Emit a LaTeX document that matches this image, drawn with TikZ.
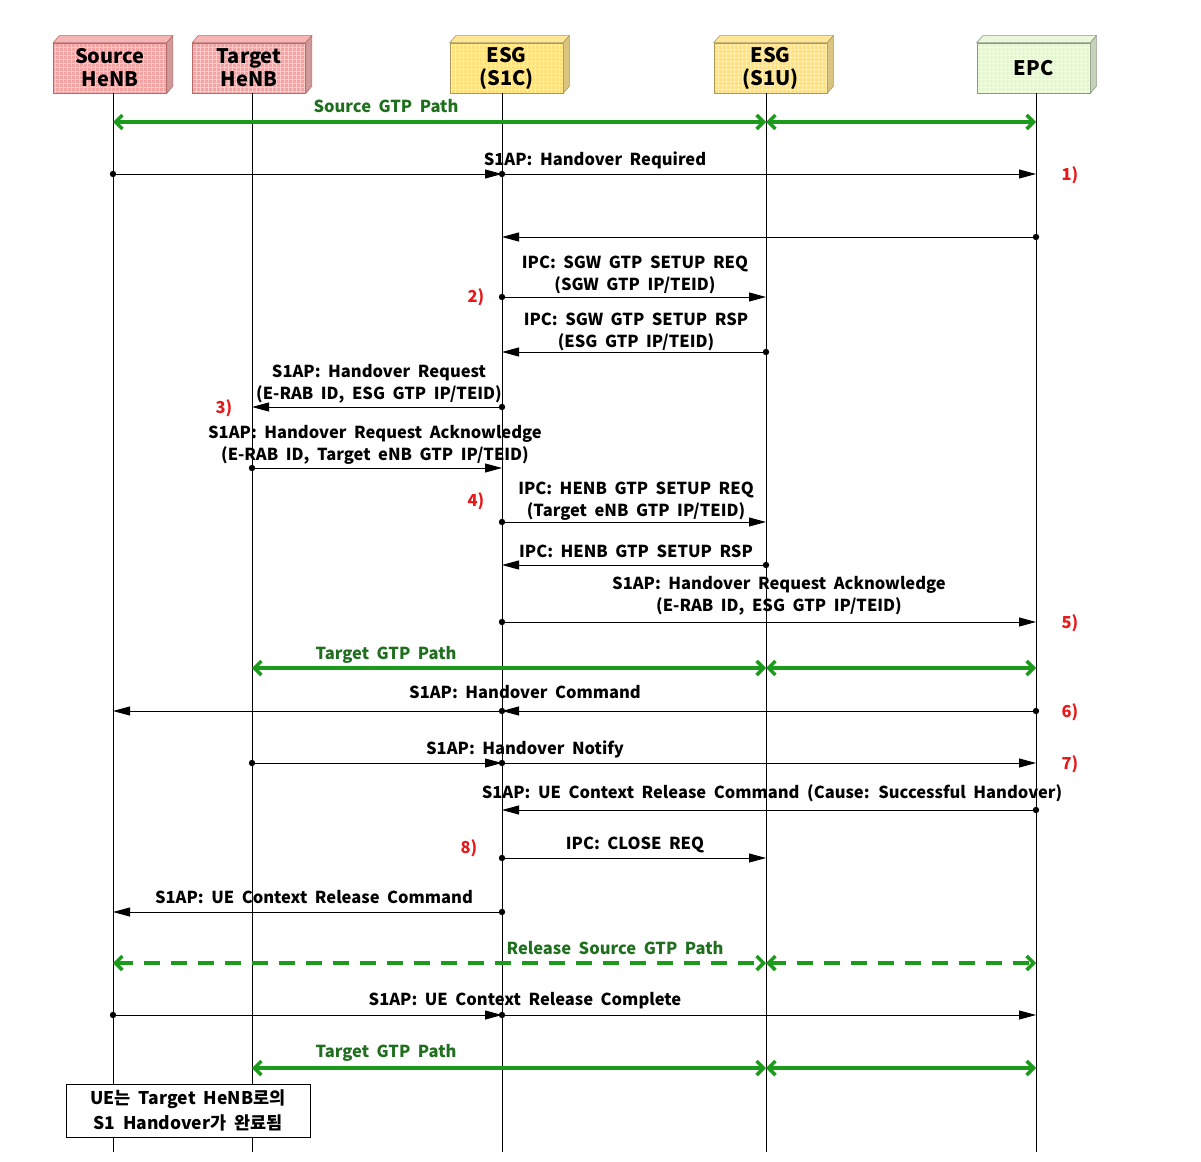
\documentclass[tikz,border=0pt]{standalone}
\usepackage{fontspec}
\setmainfont{Noto Sans CJK KR}[WordSpace=2]
\usetikzlibrary{arrows.meta}
\definecolor{pinkfill}{HTML}{F4A3A3}
\definecolor{pinkgrid}{HTML}{F9CACA}
\definecolor{pinkline}{HTML}{B86A6A}
\definecolor{yelfill}{HTML}{FFE07C}
\definecolor{yelgrid}{HTML}{FFEFB4}
\definecolor{yelline}{HTML}{A89A5A}
\definecolor{grnfill}{HTML}{E5F5D2}
\definecolor{grngrid}{HTML}{F3FBEA}
\definecolor{grnline}{HTML}{8A9A82}
\definecolor{pathgreen}{HTML}{1C9A1C}
\definecolor{labgreen}{HTML}{1F6F1F}
\definecolor{stepred}{HTML}{E61A1A}
\newcommand{\hdrfont}{\fontsize{20}{23}\selectfont\bfseries}
\newcommand{\lblfont}{\fontsize{16.5}{22}\selectfont\bfseries}
\newcommand{\notefont}{\fontsize{17.5}{25}\selectfont\bfseries}
\tikzset{
  hdr/.style n args={3}{rectangle, draw=#3, fill=#1, line width=0.6pt,
    minimum width=113pt, minimum height=50pt, inner sep=0pt, align=center,
    font=\hdrfont,
    path picture={\draw[#2, line width=0.5pt, step=4pt]
      (path picture bounding box.south west) grid (path picture bounding box.north east);}},
  lifeline/.style={draw=black, line width=0.7pt},
  msg/.style={draw=black, line width=0.9pt, -{Triangle[length=17pt,width=9pt]}},
  gtp/.style={draw=pathgreen, line width=3.5pt,
    {Straight Barb[length=7pt,width=14pt]}-{Straight Barb[length=7pt,width=14pt]}},
  gtpdash/.style={gtp, dash pattern=on 16pt off 11pt},
  lbl/.style={font=\lblfont, align=center, inner sep=0pt, text=black},
  glbl/.style={font=\lblfont, inner sep=0pt, text=labgreen},
  steplbl/.style={font=\lblfont, inner sep=0pt, text=stepred},
  notebox/.style={draw=black, fill=white, line width=0.8pt, font=\notefont,
    align=center, minimum width=244pt, minimum height=53pt, inner sep=0pt},
}
\newcommand{\threed}[3]{%
  \filldraw[fill=#2, draw=#3, line width=0.6pt] (#1.north west) -- ++(6,-7)
    -- ([shift={(6,-7)}]#1.north east) -- (#1.north east) -- cycle;
  \filldraw[fill=#2!85!black, draw=#3, line width=0.6pt] (#1.north east) -- ++(6,-7)
    -- ([shift={(6,-7)}]#1.south east) -- (#1.south east) -- cycle;}
\begin{document}
\begin{tikzpicture}[x=1pt, y=-1pt]
\useasboundingbox[fill=white] (0,0) rectangle (1201,1161);

% lifeline coordinates
\foreach \n/\x in {S/113,T/252,C/502,U/766,E/1036}{
  \foreach \y in {93,122,174,237,297,352,407,468,522,565,622,668,711,763,810,858,912,963,1015,1068}{
    \coordinate (\n\y) at (\x,\y);
  }
  \coordinate (\n-bot) at (\x,1152);
}

% headers
\node[hdr={pinkfill}{pinkgrid}{pinkline}] (hS) at (110,68) {Source\\HeNB};
\node[hdr={pinkfill}{pinkgrid}{pinkline}] (hT) at (249,68) {Target\\HeNB};
\node[hdr={yelfill}{yelgrid}{yelline}] (hC) at (506.5,68) {ESG\\(S1C)};
\node[hdr={yelfill}{yelgrid}{yelline}] (hU) at (770.5,68) {ESG\\(S1U)};
\node[hdr={grnfill}{grngrid}{grnline}] (hE) at (1033.5,68) {EPC};
\threed{hS}{pinkfill!80!white}{pinkline}
\threed{hT}{pinkfill!80!white}{pinkline}
\threed{hC}{yelfill!80!white}{yelline}
\threed{hU}{yelfill!80!white}{yelline}
\threed{hE}{grnfill!80!white}{grnline}

% lifelines
\draw[lifeline] (S93) -- (S-bot);
\draw[lifeline] (T93) -- (T-bot);
\draw[lifeline] (C93) -- (C-bot);
\draw[lifeline] (U93) -- (U-bot);
\draw[lifeline] (E93) -- (E-bot);

% Source GTP path
\node[glbl] (l1) at (386,106) {Source GTP Path};
\draw[gtp] (S122) -- (U122);
\draw[gtp] (U122) -- (E122);

% 1) Handover Required
\node[lbl] (l2) at (595,160) {S1AP: Handover Required};
\draw[msg] (S174) -- (C174);
\draw[msg] (C174) -- (E174);
\fill (S174) circle (3.2pt); \fill (C174) circle (3.2pt);
\node[steplbl] (s1) at (1070,175) {1)};

\draw[msg] (E237) -- (C237);
\fill (E237) circle (3.2pt);

% 2)
\node[lbl] (l3) at (635,275) {IPC: SGW GTP SETUP REQ\\(SGW GTP IP/TEID)};
\draw[msg] (C297) -- (U297);
\fill (C297) circle (3.2pt);
\node[steplbl] (s2) at (476,297) {2)};
\node[lbl] (l4) at (636,332) {IPC: SGW GTP SETUP RSP\\(ESG GTP IP/TEID)};
\draw[msg] (U352) -- (C352);
\fill (U352) circle (3.2pt);

% 3)
\node[lbl] (l5) at (379,384) {S1AP: Handover Request\\(E-RAB ID, ESG GTP IP/TEID)};
\draw[msg] (C407) -- (T407);
\fill (C407) circle (3.2pt);
\node[steplbl] (s3) at (224,408) {3)};
\node[lbl] (l6) at (375,445) {S1AP: Handover Request Acknowledge\\(E-RAB ID, Target eNB GTP IP/TEID)};
\draw[msg] (T468) -- (C468);
\fill (T468) circle (3.2pt);

% 4)
\node[lbl] (l7) at (636,501) {IPC: HENB GTP SETUP REQ\\(Target eNB GTP IP/TEID)};
\draw[msg] (C522) -- (U522);
\fill (C522) circle (3.2pt);
\node[steplbl] (s4) at (476,501) {4)};
\node[lbl] (l8) at (636,551) {IPC: HENB GTP SETUP RSP};
\draw[msg] (U565) -- (C565);
\fill (U565) circle (3.2pt);

% 5)
\node[lbl] (l9) at (779,596) {S1AP: Handover Request Acknowledge\\(E-RAB ID, ESG GTP IP/TEID)};
\draw[msg] (C622) -- (E622);
\fill (C622) circle (3.2pt);
\node[steplbl] (s5) at (1070,623) {5)};

% Target GTP path
\node[glbl] (l10) at (386,655) {Target GTP Path};
\draw[gtp] (T668) -- (U668);
\draw[gtp] (U668) -- (E668);

% 6)
\node[lbl] (l11) at (525,692) {S1AP: Handover Command};
\draw[msg] (E711) -- (C711);
\draw[msg] (C711) -- (S711);
\fill (E711) circle (3.2pt); \fill (C711) circle (3.2pt);
\node[steplbl] (s6) at (1070,712) {6)};

% 7)
\node[lbl] (l12) at (525,749) {S1AP: Handover Notify};
\draw[msg] (T763) -- (C763);
\draw[msg] (C763) -- (E763);
\fill (T763) circle (3.2pt); \fill (C763) circle (3.2pt);
\node[steplbl] (s7) at (1070,764) {7)};

\node[lbl] (l13) at (772,793) {S1AP: UE Context Release Command (Cause: Successful Handover)};
\draw[msg] (E810) -- (C810);
\fill (E810) circle (3.2pt);

% 8)
\node[lbl] (l14) at (635,845) {IPC: CLOSE REQ};
\draw[msg] (C858) -- (U858);
\fill (C858) circle (3.2pt);
\node[steplbl] (s8) at (469,848) {8)};

\node[lbl] (l15) at (314,897) {S1AP: UE Context Release Command};
\draw[msg] (C912) -- (S912);
\fill (C912) circle (3.2pt);

% Release source GTP path
\node[glbl] (l16) at (615,948) {Release Source GTP Path};
\draw[gtpdash] (S963) -- (U963);
\draw[gtpdash] (U963) -- (E963);

\node[lbl] (l17) at (525,1001) {S1AP: UE Context Release Complete};
\draw[msg] (S1015) -- (C1015);
\draw[msg] (C1015) -- (E1015);
\fill (S1015) circle (3.2pt); \fill (C1015) circle (3.2pt);

% Target GTP path
\node[glbl] (l18) at (386,1053) {Target GTP Path};
\draw[gtp] (T1068) -- (U1068);
\draw[gtp] (U1068) -- (E1068);

% note
\node[notebox] (note) at (188,1110.5) {UE는 Target HeNB로의\\S1 Handover가 완료됨};
\end{tikzpicture}
\end{document}
